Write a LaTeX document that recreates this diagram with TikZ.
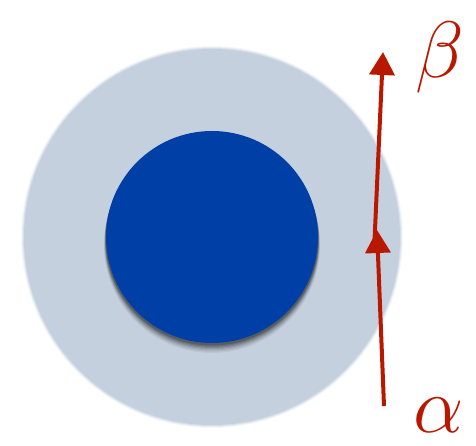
\RequirePackage{fix-cm}
\documentclass[tikz,border=0pt]{standalone}
\usetikzlibrary{calc,arrows.meta,positioning}

\definecolor{halo}{RGB}{197,208,223}
\definecolor{core}{RGB}{0,64,166}
\definecolor{ray}{RGB}{184,24,0}

\tikzset{
    path/.style={line width=4pt, color=ray, -{Triangle[length=23pt,width=25pt]}},
    greek/.style={text=ray, font=\fontsize{80}{80}\selectfont, inner sep=0pt}
}

\begin{document}
\begin{tikzpicture}[x=1pt,y=1pt]

    \useasboundingbox (0,0) rectangle (476,446);

    \coordinate (O) at (212,209);

    \coordinate (A) at (384,40);   % start
    \coordinate (M) at (377,216);  % middle tip
    \coordinate (M1) at (374,194);
    \coordinate (B) at (383,394);  % end

    % outer disk with soft rim
    \foreach \r/\o in {191/0.15,190/0.3,189/0.5}
        \fill[halo, opacity=\o] (O) circle (\r);
    \fill[halo] (O) circle (188);

    % shadow of the inner disk
    \foreach \s/\o in {8/0.05,7/0.06,6/0.08,5/0.1,4/0.12,3/0.15,2/0.18}
        \fill[black, opacity=\o] ($(O)+(0,-\s)$) circle (106+0.25*\s);
    \fill[core] (O) circle (106);

	\draw[path] (A) -- (M);
	\draw[path] (M1) -- (B);

    \node[greek] (alpha) at (439,31) {$\alpha$};
    \node[greek] (beta) at (440,388) {$\beta$};

\end{tikzpicture}
\end{document}
